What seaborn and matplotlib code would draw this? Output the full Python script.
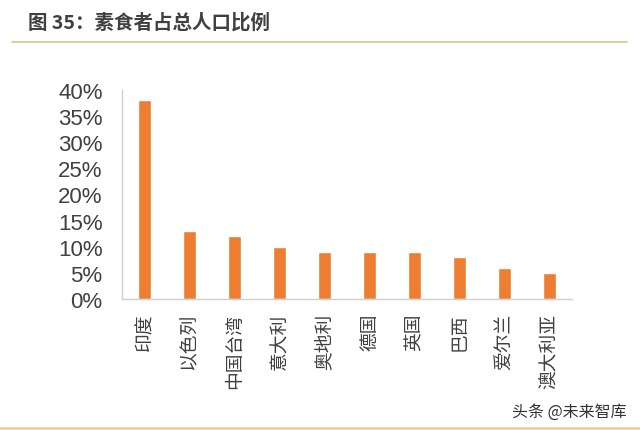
import matplotlib
matplotlib.use("Agg")
import matplotlib.pyplot as plt
import seaborn as sns
import numpy as np
import pandas as pd
from matplotlib.ticker import FixedLocator, PercentFormatter

countries = ["印度", "以色列", "中国台湾", "意大利", "奥地利", "德国", "英国", "巴西", "爱尔兰", "澳大利亚"]
shares = [38, 13, 12, 10, 9, 9, 9, 8, 6, 5]
yticks = [0, 5, 10, 15, 20, 25, 30, 35, 40]

sns.set_style("white")
plt.rcParams['font.family'] = ['Noto Sans CJK SC', 'DejaVu Sans']

df = pd.DataFrame({"country": countries, "share": shares})

fig = plt.figure(figsize=(6.4, 4.31), dpi=100)
ax = fig.add_axes([122/640, 1 - 300/431, 450/640, 209/431])

sns.barplot(data=df, x="country", y="share", color="#ED7D31", width=0.31,
            saturation=1, ax=ax)

ax.set_xlim(-0.5, len(countries) - 0.5)
ax.set_ylim(0, 40)
ax.set_yticks(yticks)
ax.yaxis.set_major_formatter(PercentFormatter(decimals=0))
ax.set_xlabel("")
ax.set_ylabel("")

for lab in ax.get_yticklabels():
    lab.set_fontfamily(['Liberation Sans', 'DejaVu Sans'])
    lab.set_fontsize(16)
    lab.set_color("#404040")
ax.tick_params(axis="y", length=4, width=0.8, color="#D0D0D0", direction="in", pad=14)

ax.set_xticks(range(len(countries)))
ax.set_xticklabels(countries, rotation=90, fontsize=13.5, color="#404040")
ax.tick_params(axis="x", which="major", length=0, pad=10)
ax.xaxis.set_minor_locator(FixedLocator(np.arange(-0.5, len(countries), 1.0)))
ax.tick_params(axis="x", which="minor", length=5, width=0.8, color="#C8C8C8", direction="out")

for s in ["top", "right"]:
    ax.spines[s].set_visible(False)
for s in ["left", "bottom"]:
    ax.spines[s].set_color("#D0D0D0")
    ax.spines[s].set_linewidth(1.0)

fig.text(28/640, 1 - 22.5/431, "图 35：素食者占总人口比例", fontsize=14, fontweight="bold",
         color="#404040", va="center", ha="left")
fig.add_artist(plt.Line2D([12/640, 627/640], [1 - 43/431, 1 - 43/431], color="#DCC489", lw=1.2))
fig.add_artist(plt.Line2D([0, 1], [1 - 429/431, 1 - 429/431], color="#F5CF86", lw=2))
fig.text(627/640, 1 - 412/431, "头条 @未来智库", fontsize=11.5, color="#333333", ha="right", va="center")

fig.savefig("out.png", dpi=100)
